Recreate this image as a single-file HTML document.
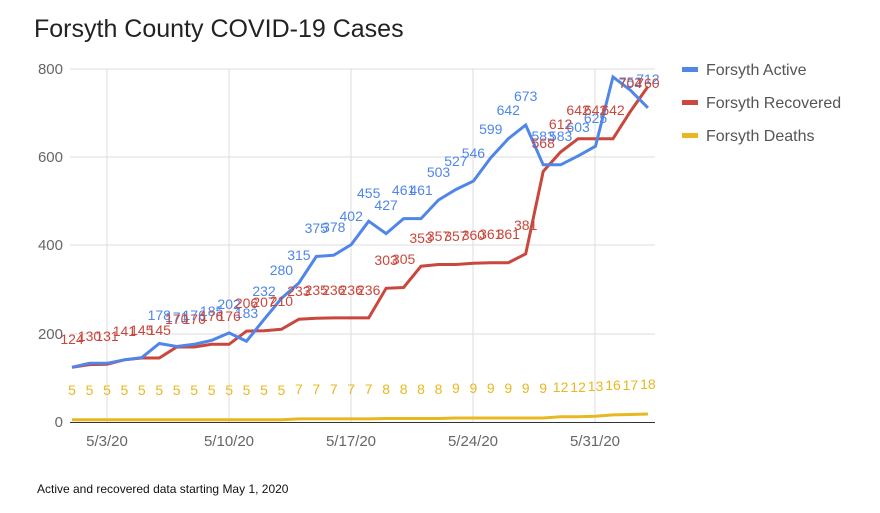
<!DOCTYPE html>
<html><head><style>
body{margin:0;background:#fff;}
svg{display:block;font-family:"Liberation Sans",sans-serif;}
.a{fill:#4f86e8;font-size:14px;text-anchor:middle}
.r{fill:#c9473c;font-size:14px;text-anchor:middle}
.d{fill:#e8b820;font-size:14px;text-anchor:middle}
.ax{fill:#666;font-size:15px}
</style></head><body>
<svg width="880" height="513" viewBox="0 0 880 513">
<text x="34" y="37" font-size="25" fill="#222">Forsyth County COVID-19 Cases</text>
<g stroke="#ddd" stroke-width="1">
<line x1="70" y1="69" x2="655" y2="69"/><line x1="70" y1="157" x2="655" y2="157"/>
<line x1="70" y1="245" x2="655" y2="245"/><line x1="70" y1="334" x2="655" y2="334"/>
<line x1="107" y1="69" x2="107" y2="422"/><line x1="229" y1="69" x2="229" y2="422"/>
<line x1="351" y1="69" x2="351" y2="422"/><line x1="473" y1="69" x2="473" y2="422"/>
<line x1="595" y1="69" x2="595" y2="422"/>
</g>
<line x1="70" y1="422.5" x2="655" y2="422.5" stroke="#333" stroke-width="1"/>
<g class="ax" text-anchor="end">
<text x="63" y="74">800</text><text x="63" y="162">600</text><text x="63" y="250">400</text><text x="63" y="339">200</text><text x="63" y="427">0</text>
</g>
<g class="ax" text-anchor="middle">
<text x="107" y="446">5/3/20</text><text x="229" y="446">5/10/20</text><text x="351" y="446">5/17/20</text><text x="473" y="446">5/24/20</text><text x="595" y="446">5/31/20</text>
</g>
<polyline fill="none" stroke="#e8b820" stroke-width="3" points="72,419.8 89.5,419.8 107,419.8 124.4,419.8 141.8,419.8 159.3,419.8 176.7,419.8 194.2,419.8 211.6,419.8 229.1,419.8 246.5,419.8 264,419.8 281.4,419.8 298.9,418.9 316.3,418.9 333.8,418.9 351.2,418.9 368.7,418.9 386.1,418.5 403.6,418.5 421,418.5 438.5,418.5 455.9,418 473.4,418 490.8,418 508.3,418 525.7,418 543.2,418 560.6,416.7 578.1,416.7 595.5,416.3 613,414.9 630.4,414.5 647.9,414"/>
<polyline fill="none" stroke="#c9473c" stroke-width="3" points="72,367.3 89.5,364.6 107,364.2 124.4,359.8 141.8,358 159.3,358 176.7,347 194.2,347 211.6,344.3 229.1,344.3 246.5,331.1 264,330.7 281.4,329.3 298.9,319.2 316.3,318.3 333.8,317.9 351.2,317.9 368.7,317.9 386.1,288.3 403.6,287.5 421,266.2 438.5,264.5 455.9,264.5 473.4,263.2 490.8,262.7 508.3,262.7 525.7,253.9 543.2,171.4 560.6,152 578.1,138.7 595.5,138.7 613,138.7 630.4,111.4 647.9,86.6"/>
<polyline fill="none" stroke="#4f86e8" stroke-width="3" points="72,367.3 89.5,363.3 107,363.3 124.4,359.8 141.8,357.6 159.3,343.5 176.7,346.5 194.2,344.3 211.6,340.4 229.1,332.9 246.5,341.2 264,319.6 281.4,298.4 298.9,283 316.3,256.5 333.8,255.2 351.2,244.6 368.7,221.2 386.1,233.6 403.6,218.6 421,218.6 438.5,200 455.9,189.5 473.4,181.1 490.8,157.7 508.3,138.7 525.7,125 543.2,164.8 560.6,164.8 578.1,155.9 595.5,146.2 613,76.9 630.4,90.2 647.9,107.8"/>
<g class="a">
<text x="159.3" y="320">178</text><text x="176.7" y="322">171</text><text x="194.2" y="320">176</text><text x="211.6" y="316">185</text><text x="229.1" y="309">202</text><text x="246.5" y="318">183</text><text x="264" y="296">232</text><text x="281.4" y="275">280</text><text x="298.9" y="260">315</text><text x="316.3" y="233">375</text><text x="333.8" y="232">378</text><text x="351.2" y="221">402</text><text x="368.7" y="198">455</text><text x="386.1" y="210">427</text><text x="403.6" y="195">461</text><text x="421" y="195">461</text><text x="438.5" y="177">503</text><text x="455.9" y="166">527</text><text x="473.4" y="158">546</text><text x="490.8" y="134">599</text><text x="508.3" y="115">642</text><text x="525.7" y="101">673</text><text x="543.2" y="141">583</text><text x="560.6" y="141">583</text><text x="578.1" y="132">603</text><text x="595.5" y="123">625</text><text x="630.4" y="87">752</text><text x="647.9" y="84">712</text>
</g>
<g class="r">
<text x="72" y="344">124</text><text x="89.5" y="341">130</text><text x="107" y="341">131</text><text x="124.4" y="336">141</text><text x="141.8" y="335">145</text><text x="159.3" y="335">145</text><text x="176.7" y="324">170</text><text x="194.2" y="324">170</text><text x="211.6" y="321">176</text><text x="229.1" y="321">176</text><text x="246.5" y="308">206</text><text x="264" y="307">207</text><text x="281.4" y="306">210</text><text x="298.9" y="296">233</text><text x="316.3" y="295">235</text><text x="333.8" y="295">236</text><text x="351.2" y="295">236</text><text x="368.7" y="295">236</text><text x="386.1" y="265">303</text><text x="403.6" y="264">305</text><text x="421" y="243">353</text><text x="438.5" y="241">357</text><text x="455.9" y="241">357</text><text x="473.4" y="240">360</text><text x="490.8" y="239">361</text><text x="508.3" y="239">361</text><text x="525.7" y="230">381</text><text x="543.2" y="148">568</text><text x="560.6" y="129">612</text><text x="578.1" y="115">642</text><text x="595.5" y="115">642</text><text x="613" y="115">642</text><text x="630.4" y="88">704</text><text x="647.9" y="88">760</text>
</g>
<g class="d">
<text x="72" y="395">5</text><text x="89.5" y="395">5</text><text x="107" y="395">5</text><text x="124.4" y="395">5</text><text x="141.8" y="395">5</text><text x="159.3" y="395">5</text><text x="176.7" y="395">5</text><text x="194.2" y="395">5</text><text x="211.6" y="395">5</text><text x="229.1" y="395">5</text><text x="246.5" y="395">5</text><text x="264" y="395">5</text><text x="281.4" y="395">5</text><text x="298.9" y="394">7</text><text x="316.3" y="394">7</text><text x="333.8" y="394">7</text><text x="351.2" y="394">7</text><text x="368.7" y="394">7</text><text x="386.1" y="394">8</text><text x="403.6" y="394">8</text><text x="421" y="394">8</text><text x="438.5" y="394">8</text><text x="455.9" y="393">9</text><text x="473.4" y="393">9</text><text x="490.8" y="393">9</text><text x="508.3" y="393">9</text><text x="525.7" y="393">9</text><text x="543.2" y="393">9</text><text x="560.6" y="392">12</text><text x="578.1" y="392">12</text><text x="595.5" y="391">13</text><text x="613" y="390">16</text><text x="630.4" y="390">17</text><text x="647.9" y="389">18</text>
</g>
<g font-size="16" fill="#555">
<rect x="682" y="67" width="16" height="5" fill="#4f86e8"/><text x="706" y="75">Forsyth Active</text>
<rect x="682" y="100" width="16" height="5" fill="#c9473c"/><text x="706" y="108">Forsyth Recovered</text>
<rect x="682" y="133" width="16" height="5" fill="#e8b820"/><text x="706" y="141">Forsyth Deaths</text>
</g>
<text x="37" y="493" font-size="12" fill="#111">Active and recovered data starting May 1, 2020</text>
</svg>
</body></html>
